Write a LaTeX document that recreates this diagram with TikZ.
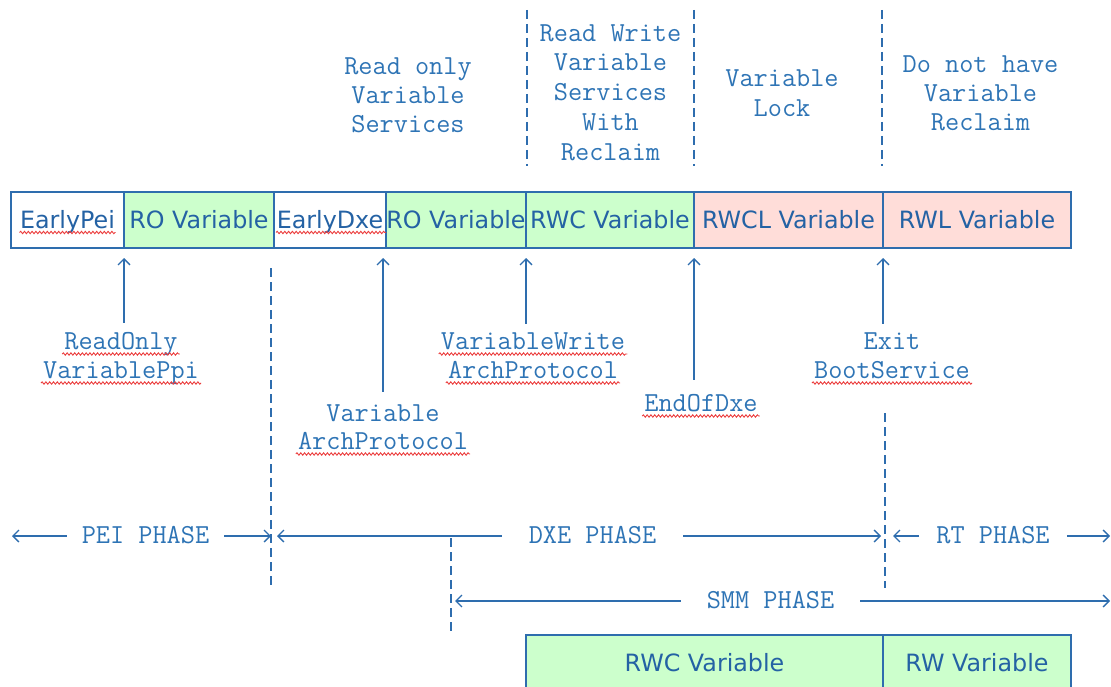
\documentclass[tikz,border=0pt]{standalone}
\usepackage{fontspec}
\newfontfamily\cellfont{DejaVu Sans}
\usetikzlibrary{arrows.meta,decorations.pathmorphing}
\definecolor{ink}{RGB}{46,116,181}
\definecolor{cellink}{RGB}{36,98,164}
\definecolor{rule}{RGB}{46,109,174}
\definecolor{cellgreen}{RGB}{204,255,204}
\definecolor{cellpink}{RGB}{255,221,217}
\definecolor{squig}{RGB}{235,60,60}
\begin{document}
\begin{tikzpicture}[x=1pt,y=-1pt,
  cell/.style={draw=rule,line width=1.3pt,minimum height=56pt,inner sep=0pt,outer sep=0pt,
    anchor=north west,font=\cellfont\fontsize{23.8}{24}\selectfont,text=cellink,
    text height=17pt,text depth=0pt},
  mono/.style={font=\ttfamily\fontsize{27.5}{30}\selectfont,text=ink,inner sep=0pt,anchor=base},
  phase/.style={mono,inner ysep=0pt,text height=14pt,text depth=0pt},
  divider/.style={draw=rule,line width=1.3pt,dash pattern=on 9pt off 5pt},
  event/.style={draw=rule,line width=1.3pt,-{Straight Barb[length=6pt,width=12pt]}},
  span/.style={draw=rule,line width=1.3pt,-{Straight Barb[length=6pt,width=12pt]}},
  typo/.style={draw=squig,line width=0.9pt,decorate,decoration={snake,amplitude=1.2pt,segment length=3.8pt}}
]
\useasboundingbox (0,0) rectangle (1111,687);

% service headings above the variable store row
\node[mono] (ro1) at (408,75) {Read only};
\node[mono] (ro2) at (408,104) {Variable};
\node[mono] (ro3) at (408,133) {Services};
\node[mono] (rw1) at (610.5,42) {Read Write};
\node[mono] (rw2) at (610.5,71) {Variable};
\node[mono] (rw3) at (610.5,101) {Services};
\node[mono] (rw4) at (610.5,131) {With};
\node[mono] (rw5) at (610.5,161) {Reclaim};
\node[mono] (lk1) at (782,87) {Variable};
\node[mono] (lk2) at (782,117) {Lock};
\node[mono] (nr1) at (980.5,73) {Do not have};
\node[mono] (nr2) at (980.5,102) {Variable};
\node[mono] (nr3) at (980.5,131) {Reclaim};

\draw[divider] (527,10) -- (527,166);
\draw[divider] (694,10) -- (694,166);
\draw[divider] (882,10) -- (882,166);

% variable store row
\node[cell,minimum width=113pt] (c1) at (11,192) {EarlyPei};
\node[cell,minimum width=150pt,fill=cellgreen] (c2) at (124,192) {RO Variable};
\node[cell,minimum width=112pt] (c3) at (274,192) {EarlyDxe};
\node[cell,minimum width=140pt,fill=cellgreen] (c4) at (386,192) {RO Variable};
\node[cell,minimum width=168pt,fill=cellgreen] (c5) at (526,192) {RWC Variable};
\node[cell,minimum width=189pt,fill=cellpink] (c6) at (694,192) {RWCL Variable};
\node[cell,minimum width=188pt,fill=cellpink] (c7) at (883,192) {RWL Variable};

\draw[typo] ([xshift=-48pt,yshift=-4pt]c1.base) -- ([xshift=48pt,yshift=-4pt]c1.base);
\draw[typo] ([xshift=-54pt,yshift=-4pt]c3.base) -- ([xshift=56pt,yshift=-4pt]c3.base);

% events that switch the store
\node[mono] (e1a) at (121,349) {ReadOnly};
\node[mono] (e1b) at (121,378) {VariablePpi};
\node[mono] (e2a) at (383,421) {Variable};
\node[mono] (e2b) at (383,449) {ArchProtocol};
\node[mono] (e3a) at (533,349) {VariableWrite};
\node[mono] (e3b) at (533,378) {ArchProtocol};
\node[mono] (e4) at (701,411) {EndOfDxe};
\node[mono] (e5a) at (892,349) {Exit};
\node[mono] (e5b) at (892,378) {BootService};

\draw[event] ([yshift=9pt]e1a.north -| c1.south east) -- ([yshift=-10pt]c1.south east);
\draw[event] ([yshift=12pt]e2a.north) -- ([yshift=-10pt]e2a.north |- c3.south);
\draw[event] ([yshift=8pt]e3a.north -| c5.south west) -- ([yshift=-10pt]c5.south west);
\draw[event] ([yshift=14pt]e4.north -| c6.south west) -- ([yshift=-10pt]c6.south west);
\draw[event] ([yshift=8pt]e5a.north -| c7.south west) -- ([yshift=-10pt]c7.south west);

\foreach \n in {e1a,e1b,e2b,e3a,e3b,e4,e5b}
  \draw[typo] ([xshift=-2pt,yshift=-5pt]\n.base west) -- ([xshift=2pt,yshift=-5pt]\n.base east);

% phase boundaries
\draw[divider] (271,268) -- (271,587);
\draw[divider] (451,538) -- (451,635);
\draw[divider] (885,413) -- (885,588);

% phase spans
\coordinate (peiL) at (12,536);
\coordinate (peiR) at (271,536);
\coordinate (dxeL) at (277,536);
\coordinate (dxeR) at (881,536);
\coordinate (rtL) at (893,536);
\coordinate (rtR) at (1110,536);
\coordinate (smmL) at (455,601);
\coordinate (smmR) at (1110,601);

\node[phase,inner xsep=15pt] (peiT) at (145.5,543) {PEI PHASE};
\node[phase,inner xsep=27pt] (dxeT) at (592.5,543) {DXE PHASE};
\node[phase,inner xsep=17pt] (rtT) at (993,543) {RT PHASE};
\node[phase,inner xsep=26pt] (smmT) at (770.5,608) {SMM PHASE};

\draw[span] (peiT.west) -- (peiL);
\draw[span] (peiT.east) -- (peiR);
\draw[span] (dxeT.west) -- (dxeL);
\draw[span] (dxeT.east) -- (dxeR);
\draw[span] (rtT.west) -- (rtL);
\draw[span] (rtT.east) -- (rtR);
\draw[span] (smmT.west) -- (smmL);
\draw[span] (smmT.east) -- (smmR);

% SMM variable store
\node[cell,minimum width=357pt,fill=cellgreen] (s1) at (526,635) {RWC Variable};
\node[cell,minimum width=188pt,fill=cellgreen] (s2) at (883,635) {RW Variable};
\end{tikzpicture}
\end{document}
